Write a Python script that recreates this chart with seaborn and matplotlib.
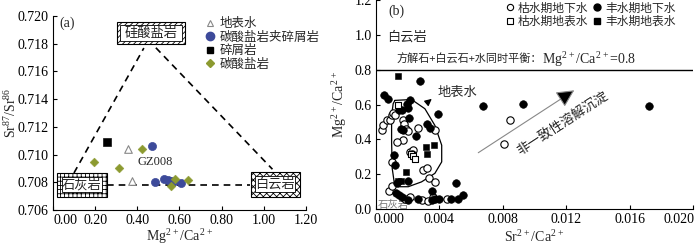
import matplotlib
matplotlib.use('Agg')
import matplotlib.pyplot as plt
import matplotlib.transforms as mtrans
import seaborn as sns
from matplotlib.patches import Rectangle
from matplotlib.lines import Line2D

sns.set_style('ticks')
plt.rcParams['font.family'] = ['Liberation Serif', 'Noto Sans CJK SC']
plt.rcParams['mathtext.fontset'] = 'custom'
plt.rcParams['mathtext.rm'] = 'Liberation Serif'
plt.rcParams['mathtext.default'] = 'regular'
plt.rcParams['hatch.linewidth'] = 0.6

# (a) 数据
surf_x = [0.357, 0.376]
surf_y = [0.71042, 0.70811]
mixed_x = [0.471, 0.485, 0.526, 0.544, 0.559, 0.570, 0.605]
mixed_y = [0.71064, 0.70804, 0.70824, 0.70814, 0.70809, 0.70802, 0.70797]
clastic_x = [0.254]
clastic_y = [0.71088]
carb_x = [0.196, 0.314, 0.420, 0.561, 0.581, 0.640]
carb_y = [0.70944, 0.70901, 0.71040, 0.70771, 0.70821, 0.70814]

# (b) 数据
dry_gw_x = [0.00036, 0.00046, 0.00067, 0.00088, 0.00099, 0.00105, 0.00120, 0.00172, 0.00179, 0.00189,
            0.00200, 0.00172, 0.00130, 0.00267, 0.00372, 0.00215, 0.00236, 0.00225, 0.00099, 0.00299,
            0.00324, 0.00336, 0.00372, 0.00084, 0.00099, 0.00183, 0.00215, 0.00288, 0.00330, 0.00362,
            0.00446, 0.00845, 0.00810]
dry_gw_y = [0.453, 0.481, 0.510, 0.510, 0.539, 0.552, 0.539, 0.514, 0.487, 0.462,
            0.447, 0.395, 0.386, 0.466, 0.453, 0.329, 0.338, 0.315, 0.271, 0.227,
            0.233, 0.176, 0.157, 0.105, 0.132, 0.055, 0.067, 0.052, 0.046, 0.067,
            0.055, 0.510, 0.373]
wet_gw_x = [0.00053, 0.00074, 0.00278, 0.00215, 0.00198, 0.00204, 0.00147, 0.00166, 0.00393, 0.00210,
            0.00156, 0.00172, 0.00250, 0.00324, 0.00341, 0.00116, 0.00120, 0.00130, 0.00200, 0.00505,
            0.00124, 0.00147, 0.00162, 0.00204, 0.00267, 0.00351, 0.00351, 0.00372, 0.00400, 0.00473,
            0.00519, 0.00551, 0.00677, 0.00925, 0.01722]
wet_gw_y = [0.657, 0.634, 0.734, 0.630, 0.602, 0.583, 0.567, 0.571, 0.548, 0.525,
            0.460, 0.457, 0.418, 0.487, 0.468, 0.313, 0.254, 0.151, 0.160, 0.147,
            0.094, 0.080, 0.067, 0.052, 0.055, 0.105, 0.052, 0.055, 0.057, 0.055,
            0.057, 0.080, 0.590, 0.606, 0.594]
dry_sw_x = [0.00137, 0.00221, 0.00236, 0.00246]
dry_sw_y = [0.600, 0.319, 0.304, 0.290]
wet_sw_x = [0.00141, 0.00313, 0.00320, 0.00368, 0.00187, 0.00158, 0.00137]
wet_sw_y = [0.768, 0.357, 0.319, 0.367, 0.214, 0.160, 0.160]

# 地表水 范围线
env_x = [0.00120, 0.00225, 0.00309, 0.00372, 0.00415, 0.00415, 0.00372, 0.00288, 0.00204,
         0.00141, 0.00115, 0.00103, 0.00099, 0.00099, 0.00109, 0.00120]
env_y = [0.625, 0.630, 0.577, 0.481, 0.367, 0.271, 0.205, 0.156, 0.128,
         0.128, 0.156, 0.233, 0.386, 0.539, 0.606, 0.625]

blue = '#3d4a9a'
green = '#8c9a30'
cjk = ['Noto Sans CJK SC']

fig = plt.figure(figsize=(7, 2.47), dpi=100)
ax1 = fig.add_axes([0.0757, 0.150, 0.3614, 0.785])
ax2 = fig.add_axes([0.537, 0.154, 0.453, 0.844])

# ---------------- (a) ----------------
ax1.plot([0.0995, 0.431], [0.70867, 0.71769], 'k--', lw=1.2, dashes=(4, 3))
ax1.plot([0.488, 1.041], [0.71771, 0.70894], 'k--', lw=1.2, dashes=(4, 3))
ax1.plot([0.254, 0.934], [0.70778, 0.70778], 'k--', lw=1.2, dashes=(4, 3))


def hbox(ax, x0, y0, x1, y1, hatch, label, dx, dy):
    ax.add_patch(Rectangle((x0, y0), x1 - x0, y1 - y0, facecolor='white', edgecolor='black',
                           hatch=hatch, lw=0.8, zorder=3))
    ax.add_patch(Rectangle((x0 + dx, y0 + dy), x1 - x0 - 2 * dx, y1 - y0 - 2 * dy,
                           facecolor='white', edgecolor='black', lw=0.6, zorder=4))
    ax.text((x0 + x1) / 2, (y0 + y1) / 2, label, ha='center', va='center', fontsize=9.5,
            family=cjk, zorder=5)


hbox(ax1, 0.305, 0.71796, 0.626, 0.71959, '//////', '硅酸盐岩', 0.014, 0.00022)
hbox(ax1, 0.020, 0.70696, 0.254, 0.70865, '++++', '石灰岩', 0.022, 0.00030)
hbox(ax1, 0.937, 0.70696, 1.171, 0.70872, 'xxxxx', '白云岩', 0.022, 0.00030)

sns.scatterplot(x=surf_x, y=surf_y, ax=ax1, marker='^', s=30, facecolor='white',
                edgecolor='#888888', linewidth=0.8, zorder=6)
sns.scatterplot(x=mixed_x, y=mixed_y, ax=ax1, marker='o', s=34, color=blue,
                edgecolor=blue, linewidth=0.5, zorder=6)
sns.scatterplot(x=clastic_x, y=clastic_y, ax=ax1, marker='s', s=30, color='black',
                edgecolor='black', zorder=6)
sns.scatterplot(x=carb_x, y=carb_y, ax=ax1, marker='D', s=20, color=green,
                edgecolor=green, zorder=6)

ax1.text(0.483, 0.70949, 'GZ008', ha='center', va='center', fontsize=9)
ax1.text(0.03, 0.7195, '(a)', ha='left', va='center', fontsize=10)

ax1.set_xlim(0, 1.2)
ax1.set_ylim(0.706, 0.720)
ax1.set_xticks([0, 0.2, 0.4, 0.6, 0.8, 1.0, 1.2])
ax1.set_xticklabels(['0.00', '0.20', '0.40', '0.60', '0.80', '1.00', '1.20'])
ax1.set_yticks([0.706, 0.708, 0.710, 0.712, 0.714, 0.716, 0.718, 0.720])
ax1.set_yticklabels(['0.706', '0.708', '0.710', '0.712', '0.714', '0.716', '0.718', '0.720'])
ax1.set_xlabel('Mg$^{2+}$/Ca$^{2+}$', fontsize=10, labelpad=0)
ax1.set_ylabel('Sr$^{87}$/Sr$^{86}$', fontsize=10)
ax1.yaxis.set_label_coords(-0.135, 0.5)

handles_a = [
    Line2D([], [], ls='', marker='^', ms=5, mfc='white', mec='#888888', mew=0.8, label='地表水'),
    Line2D([], [], ls='', marker='o', ms=6, mfc=blue, mec=blue, label='碳酸盐岩夹碎屑岩'),
    Line2D([], [], ls='', marker='s', ms=5, mfc='black', mec='black', label='碎屑岩'),
    Line2D([], [], ls='', marker='D', ms=4.5, mfc=green, mec=green, label='碳酸盐岩'),
]
ax1.legend(handles=handles_a, loc='upper left', bbox_to_anchor=(0.605, 0.99), frameon=False,
           fontsize=9, handlelength=0.6, handletextpad=0.5, labelspacing=0.12,
           borderaxespad=0, borderpad=0)

# ---------------- (b) ----------------
ax2.axhline(0.8, color='black', lw=1.0)
ax2.plot(env_x, env_y, color='black', lw=0.9)
ax2.annotate('', xy=(0.00366, 0.644), xytext=(0.00316, 0.606),
             arrowprops=dict(arrowstyle='-|>', color='black', lw=0.9, mutation_scale=10))
ax2.text(0.0039, 0.672, '地表水', fontsize=9.5, ha='left', va='center', family=cjk)
ax2.annotate('', xy=(0.01266, 0.692), xytext=(0.00631, 0.315),
             arrowprops=dict(arrowstyle='-|>,head_length=0.6,head_width=0.3', color='#888888',
                             lw=0.8, mutation_scale=18, fc='black', ec='#888888'))
ax2.text(0.0118, 0.49, '非一致性溶解沉淀', fontsize=9.5, rotation=33, ha='center', va='center',
         rotation_mode='anchor', family=cjk)

sns.scatterplot(x=dry_gw_x, y=dry_gw_y, ax=ax2, marker='o', s=28, facecolor='white',
                edgecolor='black', linewidth=0.8, zorder=5)
sns.scatterplot(x=wet_gw_x, y=wet_gw_y, ax=ax2, marker='o', s=30, color='black',
                edgecolor='black', zorder=5)
sns.scatterplot(x=dry_sw_x, y=dry_sw_y, ax=ax2, marker='s', s=24, facecolor='white',
                edgecolor='black', linewidth=0.8, zorder=6)
sns.scatterplot(x=wet_sw_x, y=wet_sw_y, ax=ax2, marker='s', s=24, color='black',
                edgecolor='black', zorder=6)

ax2.text(0.0007, 0.99, '白云岩', fontsize=9.5, ha='left', va='center', family=cjk)
ax2.text(0.0105, 0.862, '方解石+白云石+水同时平衡：', fontsize=8, ha='right', va='center',
         family=cjk)
ax2.text(0.01045, 0.862, 'Mg$^{2+}$/Ca$^{2+}$=0.8', fontsize=10, ha='left', va='center')
ax2.text(0.0001, 0.025, '石灰岩', fontsize=7.5, color='#777777', ha='left', va='center', family=cjk)
ax2.text(0.0008, 1.14, '(b)', fontsize=10, ha='left', va='center')

handles_b = [
    Line2D([], [], ls='', marker='o', ms=4.5, mfc='white', mec='black', mew=0.8, label='枯水期地下水'),
    Line2D([], [], ls='', marker='s', ms=4, mfc='white', mec='black', mew=0.8, label='枯水期地表水'),
    Line2D([], [], ls='', marker='o', ms=5, mfc='black', mec='black', label='丰水期地下水'),
    Line2D([], [], ls='', marker='s', ms=4.5, mfc='black', mec='black', label='丰水期地表水'),
]
ax2.legend(handles=handles_b, ncol=2, loc='upper left', bbox_to_anchor=(0.415, 0.99), frameon=False,
           fontsize=8.5, handlelength=0.5, handletextpad=0.4, labelspacing=0.1, columnspacing=0.5,
           borderaxespad=0, borderpad=0)

ax2.set_xlim(0, 0.020)
ax2.set_ylim(0, 1.2)
ax2.set_xticks([0, 0.004, 0.008, 0.012, 0.016, 0.020])
ax2.set_xticklabels(['0.000', '0.004', '0.008', '0.012', '0.016', '0.020'])
ax2.set_yticks([0, 0.2, 0.4, 0.6, 0.8, 1.0, 1.2])
ax2.set_yticklabels(['0.0', '0.2', '0.4', '0.6', '0.8', '1.0', '1.2'])
ax2.set_xlabel('Sr$^{2+}$/Ca$^{2+}$', fontsize=10, labelpad=2)
ax2.set_ylabel('Mg$^{2+}$/Ca$^{2+}$', fontsize=10, labelpad=4)

for ax in (ax1, ax2):
    sns.despine(ax=ax)
    ax.tick_params(direction='in', length=3, width=0.8, labelsize=10, pad=3, colors='black')
    for sp in ax.spines.values():
        sp.set_linewidth(0.8)
        sp.set_color('black')


# 端点刻度标签向内移动
def shift_label(ax, idx, px):
    tick = ax.xaxis.get_major_ticks()[idx]
    tick.label1.set_transform(tick.label1.get_transform()
                              + mtrans.ScaledTranslation(px / 100, 0, fig.dpi_scale_trans))


shift_label(ax1, 0, 13)
shift_label(ax2, 0, 13)
shift_label(ax2, -1, -14)

fig.savefig('out.png', dpi=100)
